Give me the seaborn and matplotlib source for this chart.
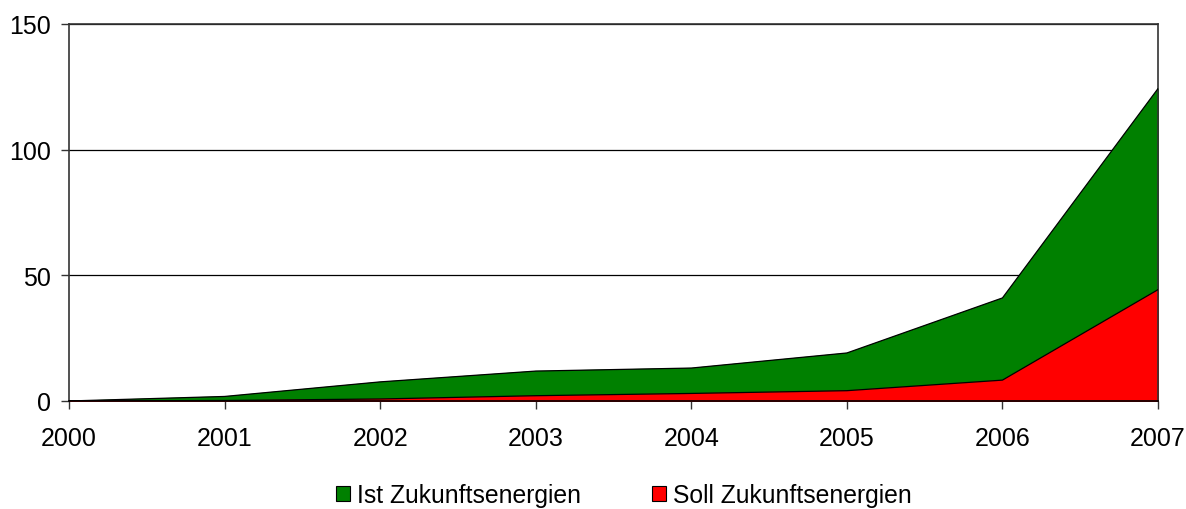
import matplotlib
matplotlib.use("Agg")
import matplotlib.pyplot as plt
import matplotlib.patches as mpatches
import seaborn as sns
import pandas as pd

# Values
years = [2000, 2001, 2002, 2003, 2004, 2005, 2006, 2007]
ist = [0.0, 1.8, 7.6, 11.9, 13.1, 19.1, 41.0, 124.3]
soll = [0.0, 0.2, 0.8, 2.1, 3.0, 4.1, 8.3, 44.3]
labels = ["Ist Zukunftsenergien", "Soll Zukunftsenergien"]
colors = ["#008000", "#ff0000"]

data = pd.DataFrame({"year": years, "ist": ist, "soll": soll})

sns.set_style("white")
plt.rcParams["font.family"] = ["Liberation Sans", "DejaVu Sans"]
plt.rcParams["text.color"] = "black"
plt.rcParams["xtick.color"] = "black"
plt.rcParams["ytick.color"] = "black"

fig = plt.figure(figsize=(11.86, 5.10), dpi=100)
ax = fig.add_axes([0.0582, 0.2118, 0.9182, 0.7392])

# green area behind, red area in front
for col, color in zip(["ist", "soll"], colors):
    ax.fill_between(data["year"], 0, data[col], color=color, zorder=2)
    sns.lineplot(x="year", y=col, data=data, ax=ax, color="black", linewidth=0.9, zorder=3)

ax.set_xlim(2000, 2007)
ax.set_ylim(0, 150)
ax.set_xticks(years)
ax.set_yticks([0, 50, 100, 150])
ax.set_xlabel("")
ax.set_ylabel("")
ax.yaxis.grid(True, color="black", linewidth=0.9, zorder=1)
ax.set_axisbelow(True)
for side in ["left", "bottom", "right", "top"]:
    ax.spines[side].set_visible(True)
    ax.spines[side].set_color("#333333")
    ax.spines[side].set_linewidth(1.2)
ax.spines["bottom"].set_color("black")
ax.spines["bottom"].set_zorder(4)
ax.tick_params(axis="y", direction="out", length=6, width=1, color="#333333", pad=7, labelsize=18)
ax.tick_params(axis="x", direction="out", length=6, width=1, color="#333333", pad=12, labelsize=18)
ax.tick_params(left=True, bottom=True)

handles = [mpatches.Patch(facecolor=c, edgecolor="black", linewidth=0.8) for c in colors]
fig.legend(handles, labels, loc="center", bbox_to_anchor=(0.526, 0.027), ncol=2, frameon=False,
           fontsize=17.8, handlelength=0.57, handleheight=0.57, handletextpad=0.25, columnspacing=2.9)

plt.savefig("out.png", dpi=100)
